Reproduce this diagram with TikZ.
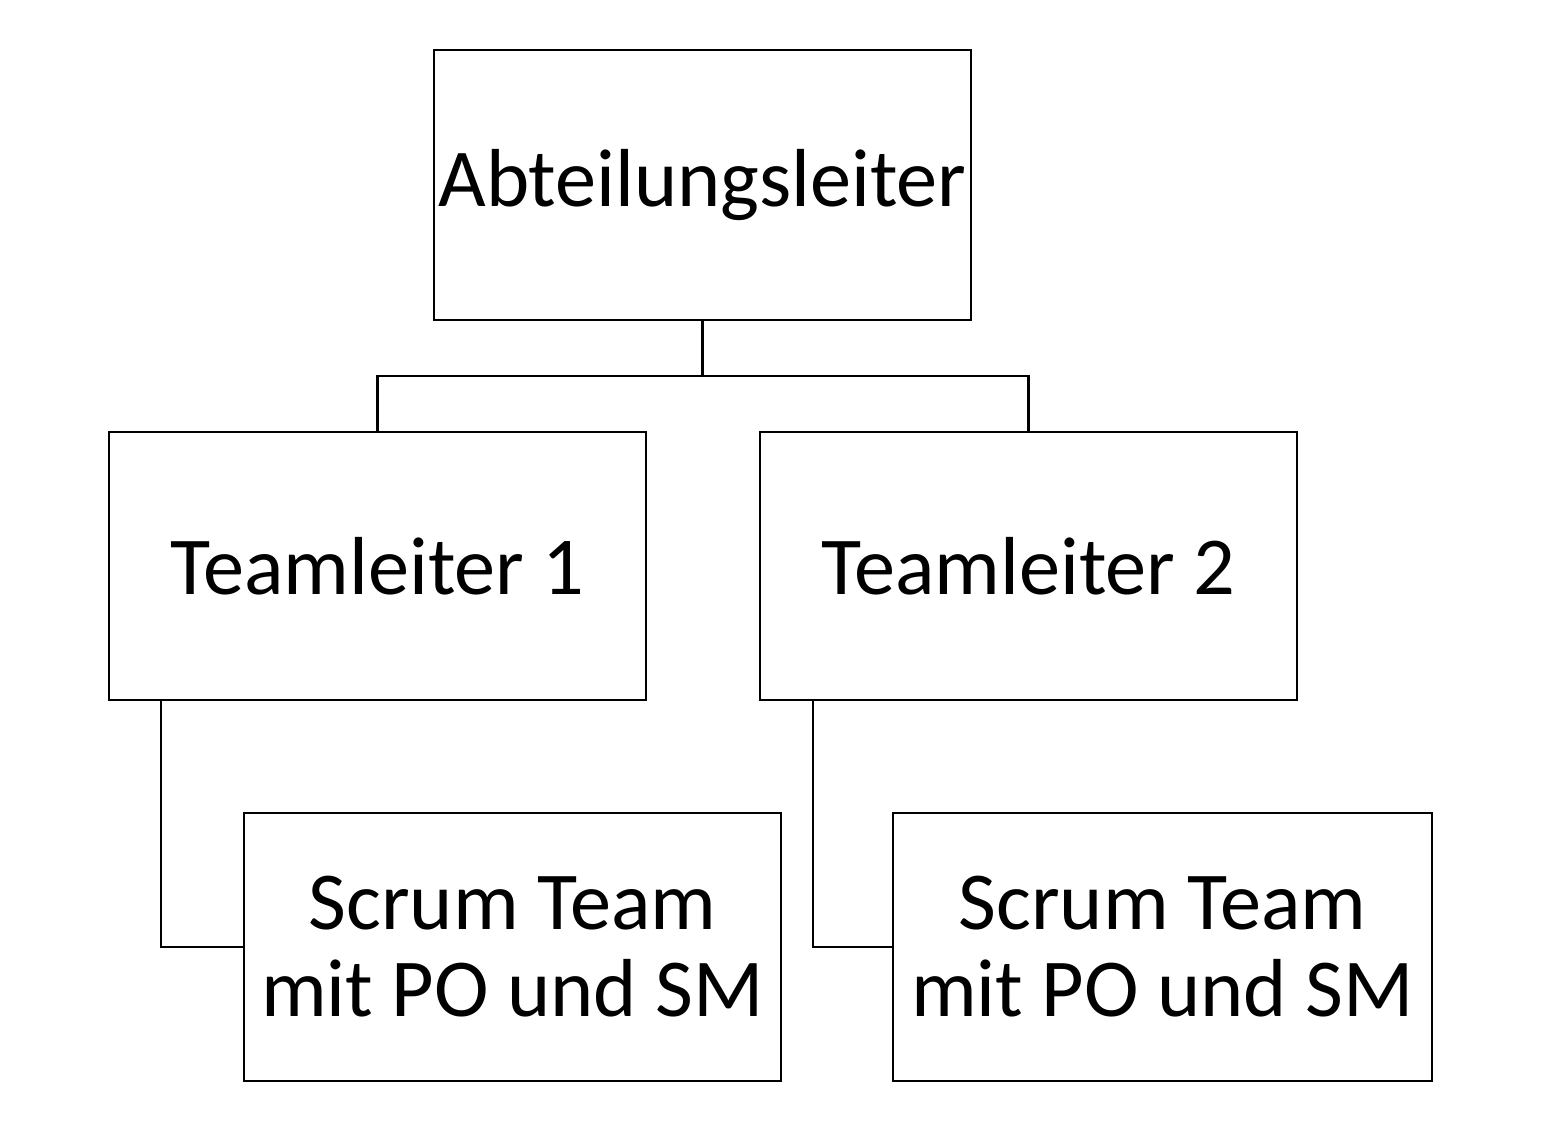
\documentclass[tikz,border=0pt]{standalone}
\usepackage{fontspec}
\setmainfont{Carlito}
\begin{document}
\begin{tikzpicture}[x=0.01cm,y=-0.01cm,
  box/.style={draw, line width=0.6pt, outer sep=0pt, inner sep=0pt,
    minimum width=5.37cm, minimum height=2.70cm, align=center,
    font=\fontsize{23.4}{24.75}\selectfont},
  conn/.style={draw, line width=0.6pt}]
\useasboundingbox (0,0) rectangle (1560,1125);
\node[box] (A) at (702.5,185) {Abteilungsleiter};
\node[box, minimum height=2.68cm] (T1) at (377.5,566) {Teamleiter 1};
\node[box, minimum height=2.68cm] (T2) at (1028.5,566) {Teamleiter 2};
\node[box, minimum height=2.68cm] (S1) at (512.5,947) {Scrum Team\\mit PO und SM};
\node[box, minimum height=2.68cm, minimum width=5.39cm] (S2) at (1162.5,947) {Scrum Team\\mit PO und SM};
\coordinate (J) at (702.5,376);
\draw[conn] (A.south) -- (J) -| (T1.north);
\draw[conn] (J) -| (T2.north);
\draw[conn] ([xshift=-2.165cm]T1.south) |- (S1.west);
\draw[conn] ([xshift=-2.155cm]T2.south) |- (S2.west);
\end{tikzpicture}
\end{document}
